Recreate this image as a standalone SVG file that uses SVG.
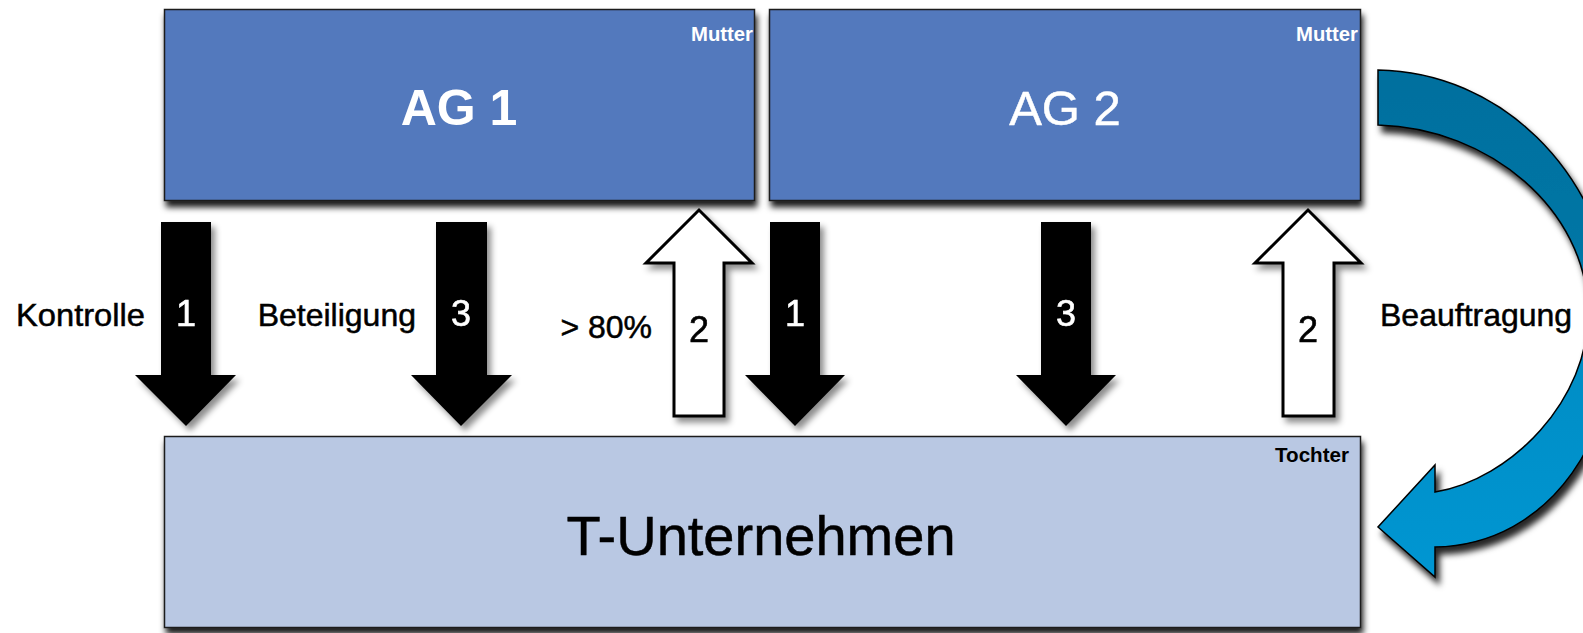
<svg xmlns="http://www.w3.org/2000/svg" width="1583" height="633" viewBox="0 0 1583 633">
<defs>
<style>
.box{stroke:#1c1c1c;stroke-width:1.5}
.ag{fill:#5279bd}
.tu{fill:#b9c8e3}
.title{font-family:"Liberation Sans",Arial,sans-serif;text-anchor:middle}
.small{font-family:"Liberation Sans",Arial,sans-serif;font-weight:bold;text-anchor:end}
.lbl{font-family:"Liberation Sans",Arial,sans-serif;font-size:32px;fill:#000;stroke:#000;stroke-width:0.5}
.num{font-family:"Liberation Sans",Arial,sans-serif;font-size:36px;text-anchor:middle;stroke-width:0.6}
.down{fill:#000}
.up{fill:#fff;stroke:#000;stroke-width:3;stroke-linejoin:miter}
</style>
<filter id="boxShadow" x="-5%" y="-10%" width="110%" height="130%">
<feDropShadow dx="2" dy="6" stdDeviation="3" flood-color="#000" flood-opacity="0.9"/>
</filter>
<filter id="arrShadow" x="-30%" y="-10%" width="170%" height="130%">
<feDropShadow dx="4" dy="5" stdDeviation="3" flood-color="#000" flood-opacity="0.45"/>
</filter>
<filter id="curveShadow" x="-20%" y="-10%" width="140%" height="130%">
<feDropShadow dx="4" dy="7" stdDeviation="3" flood-color="#000" flood-opacity="0.85"/>
</filter>
<linearGradient id="curveGrad" gradientUnits="userSpaceOnUse" x1="0" y1="70" x2="0" y2="577">
<stop offset="0" stop-color="#006f9e"/>
<stop offset="0.35" stop-color="#0076a5"/>
<stop offset="0.6" stop-color="#008ec6"/>
<stop offset="1" stop-color="#0096d2"/>
</linearGradient>
</defs>
<rect width="1583" height="633" fill="#fff"/>

<g id="connectors">
<g id="arrow-ag1-kontrolle" filter="url(#arrShadow)">
<polygon class="down" points="161,222 211,222 211,375 236,375 186,426 135,375 161,375"/>
<text class="num" x="186" y="326" fill="#fff" stroke="#fff">1</text>
</g>
<g id="arrow-ag1-beteiligung" filter="url(#arrShadow)">
<polygon class="down" points="436,222 487,222 487,375 512,375 461,426 411,375 436,375"/>
<text class="num" x="461" y="326" fill="#fff" stroke="#fff">3</text>
</g>
<g id="arrow-t-ag1" filter="url(#arrShadow)">
<polygon class="up" points="674,416 724,416 724,263 752,263 699,210 646,263 674,263"/>
<text class="num" x="699" y="342" fill="#000" stroke="#000">2</text>
</g>
<g id="arrow-ag2-kontrolle" filter="url(#arrShadow)">
<polygon class="down" points="770,222 820,222 820,375 845,375 795,426 745,375 770,375"/>
<text class="num" x="795" y="326" fill="#fff" stroke="#fff">1</text>
</g>
<g id="arrow-ag2-beteiligung" filter="url(#arrShadow)">
<polygon class="down" points="1041,222 1091,222 1091,375 1116,375 1066,426 1016,375 1041,375"/>
<text class="num" x="1066" y="326" fill="#fff" stroke="#fff">3</text>
</g>
<g id="arrow-t-ag2" filter="url(#arrShadow)">
<polygon class="up" points="1283,416 1334,416 1334,263 1361,263 1308,210 1255,263 1283,263"/>
<text class="num" x="1308" y="342" fill="#000" stroke="#000">2</text>
</g>
<g id="arrow-beauftragung" filter="url(#curveShadow)">
<path d="M1378,70 C1500,72 1600,170 1615,300 C1625,435 1550,545 1435,547 L1435,577 L1378,527 L1435,465 L1435,492 C1510,480 1590,400 1588,310 C1586,210 1490,128 1378,125 Z" fill="url(#curveGrad)" stroke="#000" stroke-width="1.5" stroke-linejoin="miter"/>
</g>
</g>

<g id="labels">
<text class="lbl" x="145" y="326" text-anchor="end" textLength="129" lengthAdjust="spacingAndGlyphs">Kontrolle</text>
<text class="lbl" x="416" y="326" text-anchor="end">Beteiligung</text>
<text class="lbl" x="652" y="338" text-anchor="end">&gt; 80%</text>
<text class="lbl" x="1380" y="326">Beauftragung</text>
</g>

<g id="ag1">
<rect class="box ag" x="164.5" y="9.5" width="590" height="191" filter="url(#boxShadow)"/>
<text class="small" x="753" y="41" font-size="20" fill="#fff" textLength="62" lengthAdjust="spacingAndGlyphs">Mutter</text>
<text class="title" x="459" y="125" fill="#fff" font-weight="bold" font-size="50">AG 1</text>
</g>

<g id="ag2">
<rect class="box ag" x="769.5" y="9.5" width="591" height="191" filter="url(#boxShadow)"/>
<text class="small" x="1358" y="41" font-size="20" fill="#fff" textLength="62" lengthAdjust="spacingAndGlyphs">Mutter</text>
<text class="title" x="1065" y="125" fill="#fff" stroke="#fff" stroke-width="0.5" font-size="49">AG 2</text>
</g>

<g id="t-unternehmen">
<rect class="box tu" x="164.5" y="436.5" width="1196" height="191" filter="url(#boxShadow)"/>
<text class="small" x="1349" y="462" font-size="20" fill="#000" textLength="74" lengthAdjust="spacingAndGlyphs">Tochter</text>
<text class="title" x="761" y="555" fill="#000" stroke="#000" stroke-width="0.5" font-size="56">T-Unternehmen</text>
</g>
</svg>
